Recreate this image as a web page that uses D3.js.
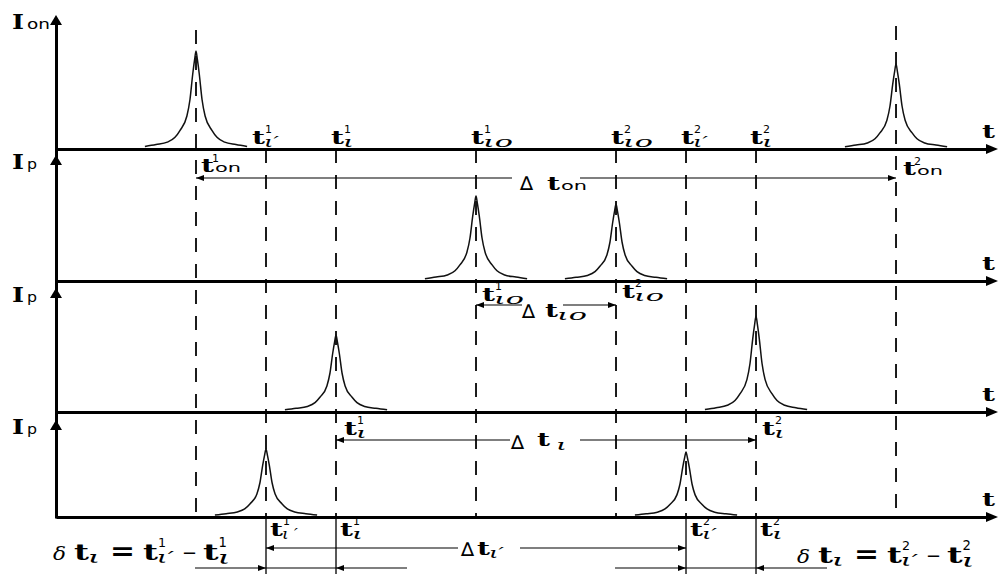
<!DOCTYPE html>
<html>
<head>
<meta charset="utf-8">
<script src="https://cdn.jsdelivr.net/npm/d3@7"></script>
<style>
body { margin: 0; background: #fff; }
svg { display: block; }
</style>
</head>
<body>
<svg width="998" height="574"></svg>
<script>
// event times on the common t axis (one unit = one grid step)
var eventNames = ["t1on", "t1i'", "t1i", "t1io", "t2io", "t2i'", "t2i", "t2on"];
var eventTimes = [2, 3, 4, 6, 8, 9, 10, 12];

// peaks: panel index, centre time, height (fraction of panel scale)
var peakPanel = [0, 0, 1, 1, 2, 2, 3, 3];
var peakTimes = [2, 12, 6, 8, 4, 10, 3, 9];
var peakHeights = [0.97, 0.84, 0.84, 0.76, 0.76, 0.95, 0.67, 0.64];

// half profile of one peak
var profileDt = [0.73, 0.57, 0.41, 0.30, 0.23, 0.13, 0.086, 0.047, 0.02, 0];
var profileRel = [0.015, 0.035, 0.06, 0.11, 0.18, 0.33, 0.5, 0.76, 0.91, 1];

// y axis labels
var panelMain = ["I", "I", "I", "I"];
var panelSub = ["on", "p", "p", "p"];

// dimension arrows (from / to times)
var dimFrom = [2, 6, 4, 3];
var dimTo = [12, 8, 10, 9];

var svg = d3.select("svg");
var SERIF = "'DejaVu Serif', serif";
var SANS = "'DejaVu Sans', sans-serif";

var x = d3.scaleLinear().domain([0, 13.414]).range([56, 995]);
var baseY = [149, 281, 412, 517];
var arrowTop = [15, 155, 288, 420];
var yScales = baseY.map(function(b) {
    return d3.scaleLinear().domain([0, 1]).range([b, b - 100]);
});

// dashed event lines
var lineTop = [30, 149, 149, 149, 149, 149, 149, 26];
svg.append("g")
    .selectAll("line")
    .data(eventTimes)
    .enter().append("line")
    .attr("x1", function(d) { return x(d); })
    .attr("x2", function(d) { return x(d); })
    .attr("y1", function(d, i) { return lineTop[i]; })
    .attr("y2", 517)
    .attr("stroke", "#111")
    .attr("stroke-width", 1.9)
    .attr("stroke-dasharray", "14,12");

// solid extensions under the last axis for t_i and t_i'
svg.append("g")
    .selectAll("line")
    .data(eventTimes.filter(function(d, i) { return [1, 2, 5, 6].indexOf(i) !== -1; }))
    .enter().append("line")
    .attr("x1", function(d) { return x(d); })
    .attr("x2", function(d) { return x(d); })
    .attr("y1", 517)
    .attr("y2", 574)
    .attr("stroke", "#111")
    .attr("stroke-width", 1.4);

// peaks
var profile = [];
for (var k = 0; k < profileDt.length; k++) profile.push([-profileDt[k], profileRel[k]]);
for (var k = profileDt.length - 2; k >= 0; k--) profile.push([profileDt[k], profileRel[k]]);

svg.append("g")
    .selectAll("path")
    .data(peakTimes)
    .enter().append("path")
    .attr("fill", "none")
    .attr("stroke", "#111")
    .attr("stroke-width", 1.5)
    .attr("d", function(t0, i) {
        var ys = yScales[peakPanel[i]];
        var h = peakHeights[i];
        return d3.line()
            .x(function(p) { return x(t0 + p[0]); })
            .y(function(p) { return ys(h * p[1]) - 1; })
            .curve(d3.curveMonotoneX)(profile);
    });

// axes
baseY.forEach(function(b) {
    var g = svg.append("g")
        .attr("transform", "translate(0," + b + ")")
        .call(d3.axisBottom(d3.scaleLinear().domain([0, 1]).range([56, 988]))
            .tickValues([]).tickSizeOuter(0));
    g.select(".domain").attr("stroke", "#000").attr("stroke-width", 3);
    svg.append("path")
        .attr("d", "M986," + (b - 5) + "L998," + b + "L986," + (b + 5) + "Z")
        .attr("fill", "#000");
});

var gy = svg.append("g")
    .attr("transform", "translate(56,0)")
    .call(d3.axisLeft(d3.scaleLinear().domain([0, 1]).range([518, 22]))
        .tickValues([]).tickSizeOuter(0));
gy.select(".domain").attr("stroke", "#000").attr("stroke-width", 3);
arrowTop.forEach(function(t) {
    svg.append("path")
        .attr("d", "M50," + (t + 10) + "L56," + t + "L62," + (t + 10) + "Z")
        .attr("fill", "#000");
});

// text helpers
function txt(s, px, py, o) {
    var el = svg.append("text")
        .attr("x", px).attr("y", py)
        .attr("font-family", o.family || SANS)
        .attr("font-size", o.size || 14)
        .attr("font-weight", o.weight || "normal")
        .attr("font-style", o.style || "normal")
        .attr("fill", "#000")
        .text(s);
    if (o.len) el.attr("textLength", o.len).attr("lengthAdjust", "spacingAndGlyphs");
    return el;
}

function subLen(sub) {
    return {"ι": 11, "ι′": 15, "ιo": 30, "ι ′": 16}[sub] || 12;
}

function tLabel(px, py, sup, sub, s) {
    s = s || 1;
    txt("t", px, py, {family: SERIF, size: 19 * s, weight: "bold", len: 13 * s});
    if (sub === "on") {
        txt("on", px + 14 * s, py, {family: SANS, size: 13 * s, len: 26 * s});
        if (sup) txt(sup, px + 11 * s, py - 10 * s, {family: SANS, size: 11 * s});
        return;
    }
    if (sup) txt(sup, px + 13 * s, py - 11 * s, {family: SANS, size: 11 * s});
    if (sub) txt(sub, px + 12 * s, py + 3 * s, {family: SERIF, size: 15 * s, style: "italic", len: subLen(sub) * s});
}

function arrowHead(px, py, dir) {
    svg.append("path")
        .attr("d", "M" + px + "," + py + "L" + (px - dir * 8) + "," + (py - 3) + "L" + (px - dir * 8) + "," + (py + 3) + "Z")
        .attr("fill", "#000");
}

function hline(x1, x2, py) {
    svg.append("line")
        .attr("x1", x1).attr("x2", x2).attr("y1", py).attr("y2", py)
        .attr("stroke", "#000").attr("stroke-width", 1.2);
}

// y axis labels
arrowTop.forEach(function(t, i) {
    txt(panelMain[i], 12, t + 14, {family: SERIF, size: 20, weight: "bold", len: 12});
    txt(panelSub[i], 27, t + 14, {family: SANS, size: 14, len: panelSub[i] === "on" ? 23 : 10});
});

// "t" at the end of each axis
baseY.forEach(function(b) {
    txt("t", 982, b - 11, {family: SERIF, size: 19, weight: "bold", len: 13});
});

// labels above the first axis
tLabel(252, 144, "1", "ι′");
tLabel(331, 144, "1", "ι");
tLabel(471, 144, "1", "ιo");
tLabel(611, 144, "2", "ιo");
tLabel(681, 144, "2", "ι′");
tLabel(750, 144, "2", "ι");

// labels below axes
tLabel(201, 172, "1", "on");
tLabel(903, 175, "2", "on");
tLabel(482, 301, "1", "ιo");
tLabel(622, 298, "2", "ιo");
tLabel(344, 435, "1", "ι");
tLabel(762, 435, "2", "ι");
tLabel(270, 536, "1", "ι ′");
tLabel(340, 536, "1", "ι");
tLabel(690, 536, "2", "ι′");
tLabel(760, 536, "2", "ι");

// dimension arrows
var dimY = [178, 305, 440, 548];
var dimGap = [[512, 580], [522, 563], [510, 580], [458, 520]];
dimFrom.forEach(function(f, i) {
    var x1 = x(f), x2 = x(dimTo[i]);
    hline(x1, dimGap[i][0], dimY[i]);
    hline(dimGap[i][1], x2, dimY[i]);
    arrowHead(x1, dimY[i], -1);
    arrowHead(x2, dimY[i], 1);
});

// delta labels
var DELTA = {family: SANS, size: 19, weight: "normal", len: 13};
txt("∆", 520, 190, DELTA);
tLabel(547, 190, null, "on");
txt("∆", 522, 318, DELTA);
tLabel(545, 317, null, "ιo");
txt("∆", 511, 449, DELTA);
txt("t", 537, 446, {family: SERIF, size: 19, weight: "bold", len: 13});
txt("ι", 556, 450, {family: SERIF, size: 15, style: "italic", len: 11});
txt("∆", 461, 556, DELTA);
tLabel(477, 555, null, "ι′");

// δ arrows under the last axis
var dY = 568;
[[3, 4], [9, 10]].forEach(function(pair) {
    var a = x(pair[0]), b = x(pair[1]);
    hline(a - 71, b + 71, dY);
    arrowHead(a, dY, 1);
    arrowHead(b, dY, -1);
});

// formulas
function formula(px, py, sup) {
    txt("δ", px, py, {family: SERIF, size: 18, style: "italic", len: 13});
    tLabel(px + 21, py, null, "ι", 1.15);
    txt("=", px + 57, py, {family: SANS, size: 24, weight: "bold", len: 25});
    tLabel(px + 90, py, sup, "ι′", 1.15);
    txt("−", px + 129, py - 1, {family: SANS, size: 18, len: 15});
    tLabel(px + 150, py, sup, "ι", 1.2);
}
formula(53, 560, "1");
formula(797, 563, "2");
</script>
</body>
</html>
